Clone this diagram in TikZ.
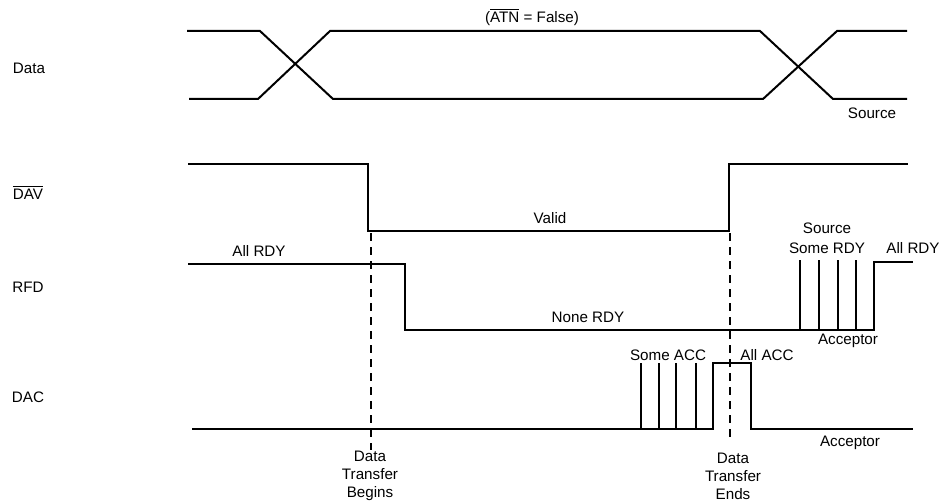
\documentclass[tikz,border=0pt]{standalone}
\usepackage{fontspec}
\setmainfont{Liberation Sans}
\begin{document}
\begin{tikzpicture}[x=0.5pt, y=-0.5pt,
    sig/.style={line width=1pt, line join=miter},
    pulse/.style={line width=0.8pt},
    marker/.style={line width=0.6pt, dash pattern=on 4pt off 3pt},
    lbl/.style={font=\fontsize{7.6}{9}\selectfont, inner sep=0pt, align=center}]
    \useasboundingbox (0,0) rectangle (945,502);

    % Signal names
    \node[lbl] (data) at (29,68) {Data};
    \node[lbl] (dav) at (28,192) {$\overline{\mbox{DAV}}$};
    \node[lbl] (rfd) at (28,287) {RFD};
    \node[lbl] (dac) at (28,397) {DAC};

    % Data bus
    \draw[sig] (187,31) -- (260,31) -- (333,99) -- (763,99) -- (837,31) -- (907,31);
    \draw[sig] (189,99) -- (258,99) -- (330,31) -- (760,31) -- (833,99) -- (907,99);
    \node[lbl] (atn) at (532,17) {($\overline{\mbox{ATN}}$ = False)};
    \node[lbl] (datasrc) at (872,113) {Source};

    % DAV
    \draw[sig] (188,164) -- (368,164) -- (368,231) -- (729,231) -- (729,164) -- (908,164);
    \node[lbl] (valid) at (550,218) {Valid};

    % RFD
    \draw[sig] (188,264) -- (405,264) -- (405,330) -- (874,330) -- (874,262) -- (913,262);
    \foreach \x in {800,819,838,856}
        \draw[pulse] (\x,330) -- (\x,260);
    \node[lbl] (allrdy) at (259,251) {All RDY};
    \node[lbl] (nonerdy) at (588,317) {None RDY};
    \node[lbl] (rfdsrc) at (827,228) {Source};
    \node[lbl] (somerdy) at (827,248) {Some RDY};
    \node[lbl] (allrdy2) at (913,248) {All RDY};
    \node[lbl] (rfdacc) at (848,341) {Acceptor};

    % DAC
    \draw[sig] (192,429) -- (713,429) -- (713,363) -- (751,363) -- (751,429) -- (913,429);
    \foreach \x in {641,659,676,696}
        \draw[pulse] (\x,429) -- (\x,363);
    \node[lbl] (someacc) at (668,355) {Some ACC};
    \node[lbl] (allacc) at (767,355) {All ACC};
    \node[lbl] (dacacc) at (850,443) {Acceptor};

    % Transfer markers
    \draw[marker] (371,233) -- (371,450);
    \draw[marker] (730,233) -- (730,440);
    \node[lbl] (begins) at (370,476) {Data\\Transfer\\Begins};
    \node[lbl] (ends) at (733,476) {Data\\Transfer\\Ends};
\end{tikzpicture}
\end{document}
